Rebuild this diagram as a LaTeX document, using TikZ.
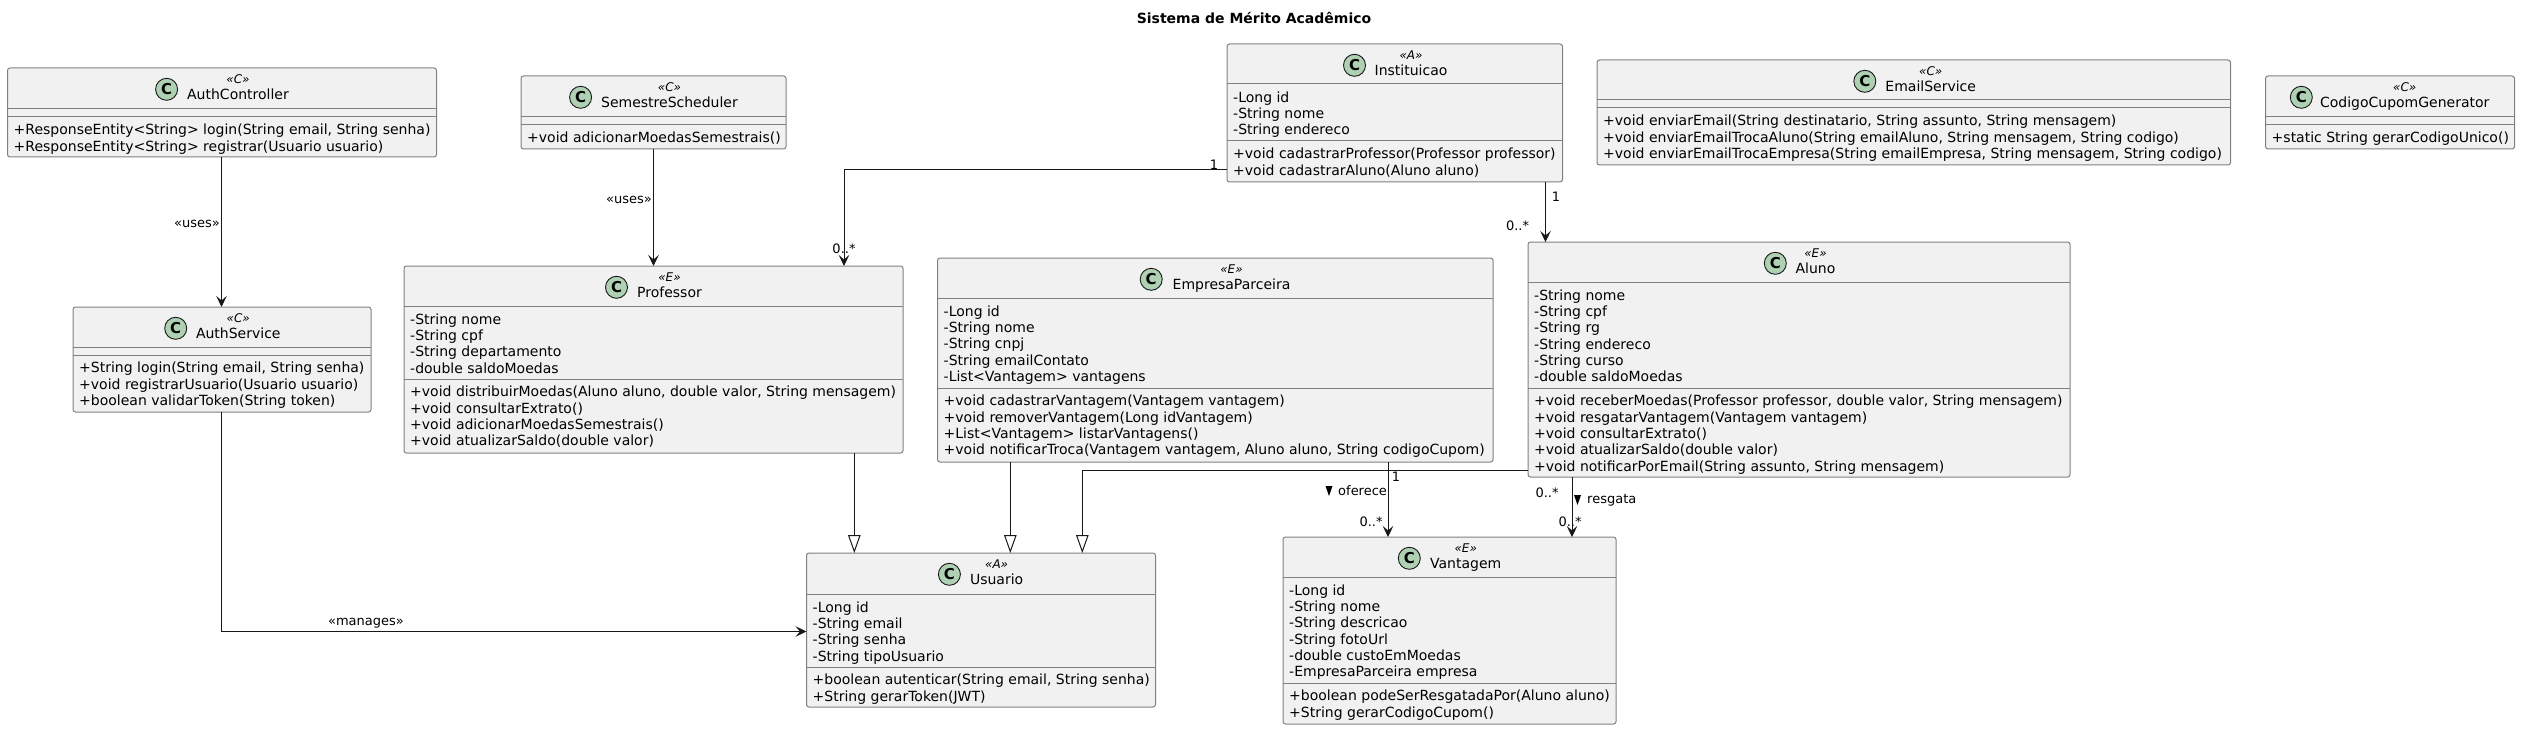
\documentclass[tikz,border=0pt]{standalone}
\usepackage{fontspec}
\setmainfont{DejaVu Sans}
\usetikzlibrary{arrows.meta}
\definecolor{boxfill}{HTML}{F1F1F1}
\definecolor{boxline}{HTML}{808080}
\definecolor{iconfill}{HTML}{ADD1B2}
\definecolor{inkc}{HTML}{181818}
\tikzset{
  classbox/.style={draw=boxline,fill=boxfill,line width=1pt,rounded corners=2.5pt,inner sep=0pt,outer sep=0pt,anchor=north west},
  sepline/.style={draw=boxline,line width=1pt},
  icon/.style={circle,draw=inkc,fill=iconfill,line width=0.9pt,minimum size=22pt,inner sep=0pt,font=\fontsize{15}{15}\selectfont\bfseries},
  stereo/.style={inner sep=0pt,anchor=base,font=\fontsize{12}{14}\selectfont\itshape},
  cname/.style={inner sep=0pt,anchor=base,font=\fontsize{14}{16}\selectfont},
  members/.style={inner sep=0pt,anchor=north west,align=left,font=\fontsize{14}{16.3}\selectfont},
  lbl/.style={inner sep=0pt,font=\fontsize{13}{15}\selectfont,text=black},
  assoc/.style={draw=inkc,line width=1pt,-{Stealth[length=11pt,width=10.5pt,inset=4.5pt]}},
  inherit/.style={draw=inkc,line width=1pt,-{Triangle[length=18pt,width=12.5pt,fill=white]}},
  dirmark/.style={fill=black},
  titletext/.style={inner sep=0pt,font=\fontsize{14}{16}\selectfont\bfseries}
}
% name x1 y1 x2 y2 sep1 sep2
\newcommand{\umlbox}[7]{%
  \def\boxtop{#3}\def\boxleft{#2}%
  \node[classbox,minimum width={(#4-#2)*1pt},minimum height={(#5-#3)*1pt}] (#1) at (#2,#3) {};
  \draw[sepline] (#2,#6) -- (#4,#6);
  \draw[sepline] (#2,#7) -- (#4,#7);
  \def\sepa{#6}\def\sepb{#7}%
}
% name iconx textx stereo title
\newcommand{\umlhead}[5]{%
  \node[icon] (#1icon) at (#2,\boxtop+21.3) {C};
  \node[stereo] (#1ster) at (#3,\boxtop+15.3) {«#4»};
  \node[cname] (#1name) at (#3,\boxtop+31.7) {#5};
}
\newcommand{\umlfields}[2]{\node[members] (#1fields) at (\boxleft+6,\sepa+6) {\rule{0pt}{12pt}#2};}
\newcommand{\umlmethods}[2]{\node[members] (#1methods) at (\boxleft+6,\sepb+5.6) {\rule{0pt}{12pt}#2};}
\begin{document}
\begin{tikzpicture}[x=1pt,y=-1pt]
\useasboundingbox (0,0) rectangle (2521,730);
\node[titletext] (title) at (1254,18) {Sistema de Mérito Acadêmico};

\umlbox{authc}{7.5}{68}{436.5}{157}{109}{117}
\umlhead{authc}{166.6}{238}{C}{AuthController}
\umlmethods{authc}{+ResponseEntity<String> login(String email, String senha)\\+ResponseEntity<String> registrar(Usuario usuario)}

\umlbox{sem}{521}{76}{786}{149}{117}{125}
\umlhead{sem}{580.6}{669.5}{C}{SemestreScheduler}
\umlmethods{sem}{+void adicionarMoedasSemestrais()}

\umlbox{auths}{73}{307}{371}{412}{347}{355}
\umlhead{auths}{175.7}{238.3}{C}{AuthService}
\umlmethods{auths}{+String login(String email, String senha)\\+void registrarUsuario(Usuario usuario)\\+boolean validarToken(String token)}

\umlbox{prof}{404}{266}{903}{453}{306}{379}
\umlhead{prof}{616.5}{669.5}{E}{Professor}
\umlfields{prof}{-String nome\\-String cpf\\-String departamento\\-double saldoMoedas}
\umlmethods{prof}{+void distribuirMoedas(Aluno aluno, double valor, String mensagem)\\+void consultarExtrato()\\+void adicionarMoedasSemestrais()\\+void atualizarSaldo(double valor)}

\umlbox{inst}{1227}{44}{1562.5}{182}{84}{141}
\umlhead{inst}{1354.5}{1411}{A}{Instituicao}
\umlfields{inst}{-Long id\\-String nome\\-String endereco}
\umlmethods{inst}{+void cadastrarProfessor(Professor professor)\\+void cadastrarAluno(Aluno aluno)}

\umlbox{email}{1597}{60}{2230.5}{165}{100}{108}
\umlhead{email}{1864.8}{1930.7}{C}{EmailService}
\umlmethods{email}{+void enviarEmail(String destinatario, String assunto, String mensagem)\\+void enviarEmailTrocaAluno(String emailAluno, String mensagem, String codigo)\\+void enviarEmailTrocaEmpresa(String emailEmpresa, String mensagem, String codigo)}

\umlbox{cod}{2265.5}{76}{2514.5}{149}{117}{125}
\umlhead{cod}{2301.3}{2404.7}{C}{CodigoCupomGenerator}
\umlmethods{cod}{+static String gerarCodigoUnico()}

\umlbox{aluno}{1528}{242}{2070}{477}{282}{388}
\umlhead{aluno}{1775.3}{1815.5}{E}{Aluno}
\umlfields{aluno}{-String nome\\-String cpf\\-String rg\\-String endereco\\-String curso\\-double saldoMoedas}
\umlmethods{aluno}{+void receberMoedas(Professor professor, double valor, String mensagem)\\+void resgatarVantagem(Vantagem vantagem)\\+void consultarExtrato()\\+void atualizarSaldo(double valor)\\+void notificarPorEmail(String assunto, String mensagem)}

\umlbox{emp}{937.5}{258}{1493}{462}{298}{388}
\umlhead{emp}{1151.2}{1231.5}{E}{EmpresaParceira}
\umlfields{emp}{-Long id\\-String nome\\-String cnpj\\-String emailContato\\-List<Vantagem> vantagens}
\umlmethods{emp}{+void cadastrarVantagem(Vantagem vantagem)\\+void removerVantagem(Long idVantagem)\\+List<Vantagem> listarVantagens()\\+void notificarTroca(Vantagem vantagem, Aluno aluno, String codigoCupom)}

\umlbox{usu}{806.5}{553}{1155.5}{707}{594}{667}
\umlhead{usu}{949.4}{996.6}{A}{Usuario}
\umlfields{usu}{-Long id\\-String email\\-String senha\\-String tipoUsuario}
\umlmethods{usu}{+boolean autenticar(String email, String senha)\\+String gerarToken(JWT)}

\umlbox{vant}{1283}{537}{1616}{724}{577}{683}
\umlhead{vant}{1409.3}{1465.7}{E}{Vantagem}
\umlfields{vant}{-Long id\\-String nome\\-String descricao\\-String fotoUrl\\-double custoEmMoedas\\-EmpresaParceira empresa}
\umlmethods{vant}{+boolean podeSerResgatadaPor(Aluno aluno)\\+String gerarCodigoCupom()}

% routing guides
\coordinate (xac) at (221.5,0);
\coordinate (xsem) at (653.5,0);
\coordinate (xip) at (844,0);
\coordinate (xia) at (1545.5,0);
\coordinate (xpu) at (854.3,0);
\coordinate (xeu) at (1010.3,0);
\coordinate (xau) at (1082.3,0);
\coordinate (xev) at (1388,0);
\coordinate (xav) at (1572,0);
\coordinate (ym) at (0,631.5);
\coordinate (yip) at (0,170);
\coordinate (yau) at (0,470.5);

% connectors
\draw[assoc] (xac |- authc.south) -- (xac |- auths.north);
\draw[assoc] (xac |- auths.south) -- (xac |- ym) -- (usu.west |- ym);
\draw[assoc] (xsem |- sem.south) -- (xsem |- prof.north);
\draw[assoc] (inst.west |- yip) -- (xip |- yip) -- (xip |- prof.north);
\draw[assoc] (xia |- inst.south) -- (xia |- aluno.north);
\draw[inherit] (xpu |- prof.south) -- (xpu |- usu.north);
\draw[inherit] (xeu |- emp.south) -- (xeu |- usu.north);
\draw[inherit] (aluno.west |- yau) -- (xau |- yau) -- (xau |- usu.north);
\draw[assoc] (xev |- emp.south) -- (xev |- vant.north);
\draw[assoc] (xav |- aluno.south) -- (xav |- vant.north);

% connector labels
\node[lbl,anchor=east] (l1) at (220,224) {«uses»};
\node[lbl,anchor=east] (l2) at (652,200) {«uses»};
\node[lbl] (l3) at (366,623) {«manages»};
\node[lbl] (l4) at (1214,165) {1};
\node[lbl] (l5) at (844,249) {0..*};
\node[lbl] (l6) at (1556,197) {1};
\node[lbl] (l7) at (1517.5,226) {0..*};
\node[lbl] (l8) at (1396,477) {1};
\node[lbl,anchor=west] (l9) at (1338,491) {oferece};
\fill[dirmark] (1325.5,486) -- (1332.5,486) -- (1329,496) -- cycle;
\node[lbl] (l10) at (1371,522) {0..*};
\node[lbl] (l11) at (1547,493) {0..*};
\node[lbl] (l12) at (1570,522) {0..*};
\node[lbl,anchor=west] (l13) at (1587,500) {resgata};
\fill[dirmark] (1574,495) -- (1581,495) -- (1577.5,505) -- cycle;
\end{tikzpicture}
\end{document}
